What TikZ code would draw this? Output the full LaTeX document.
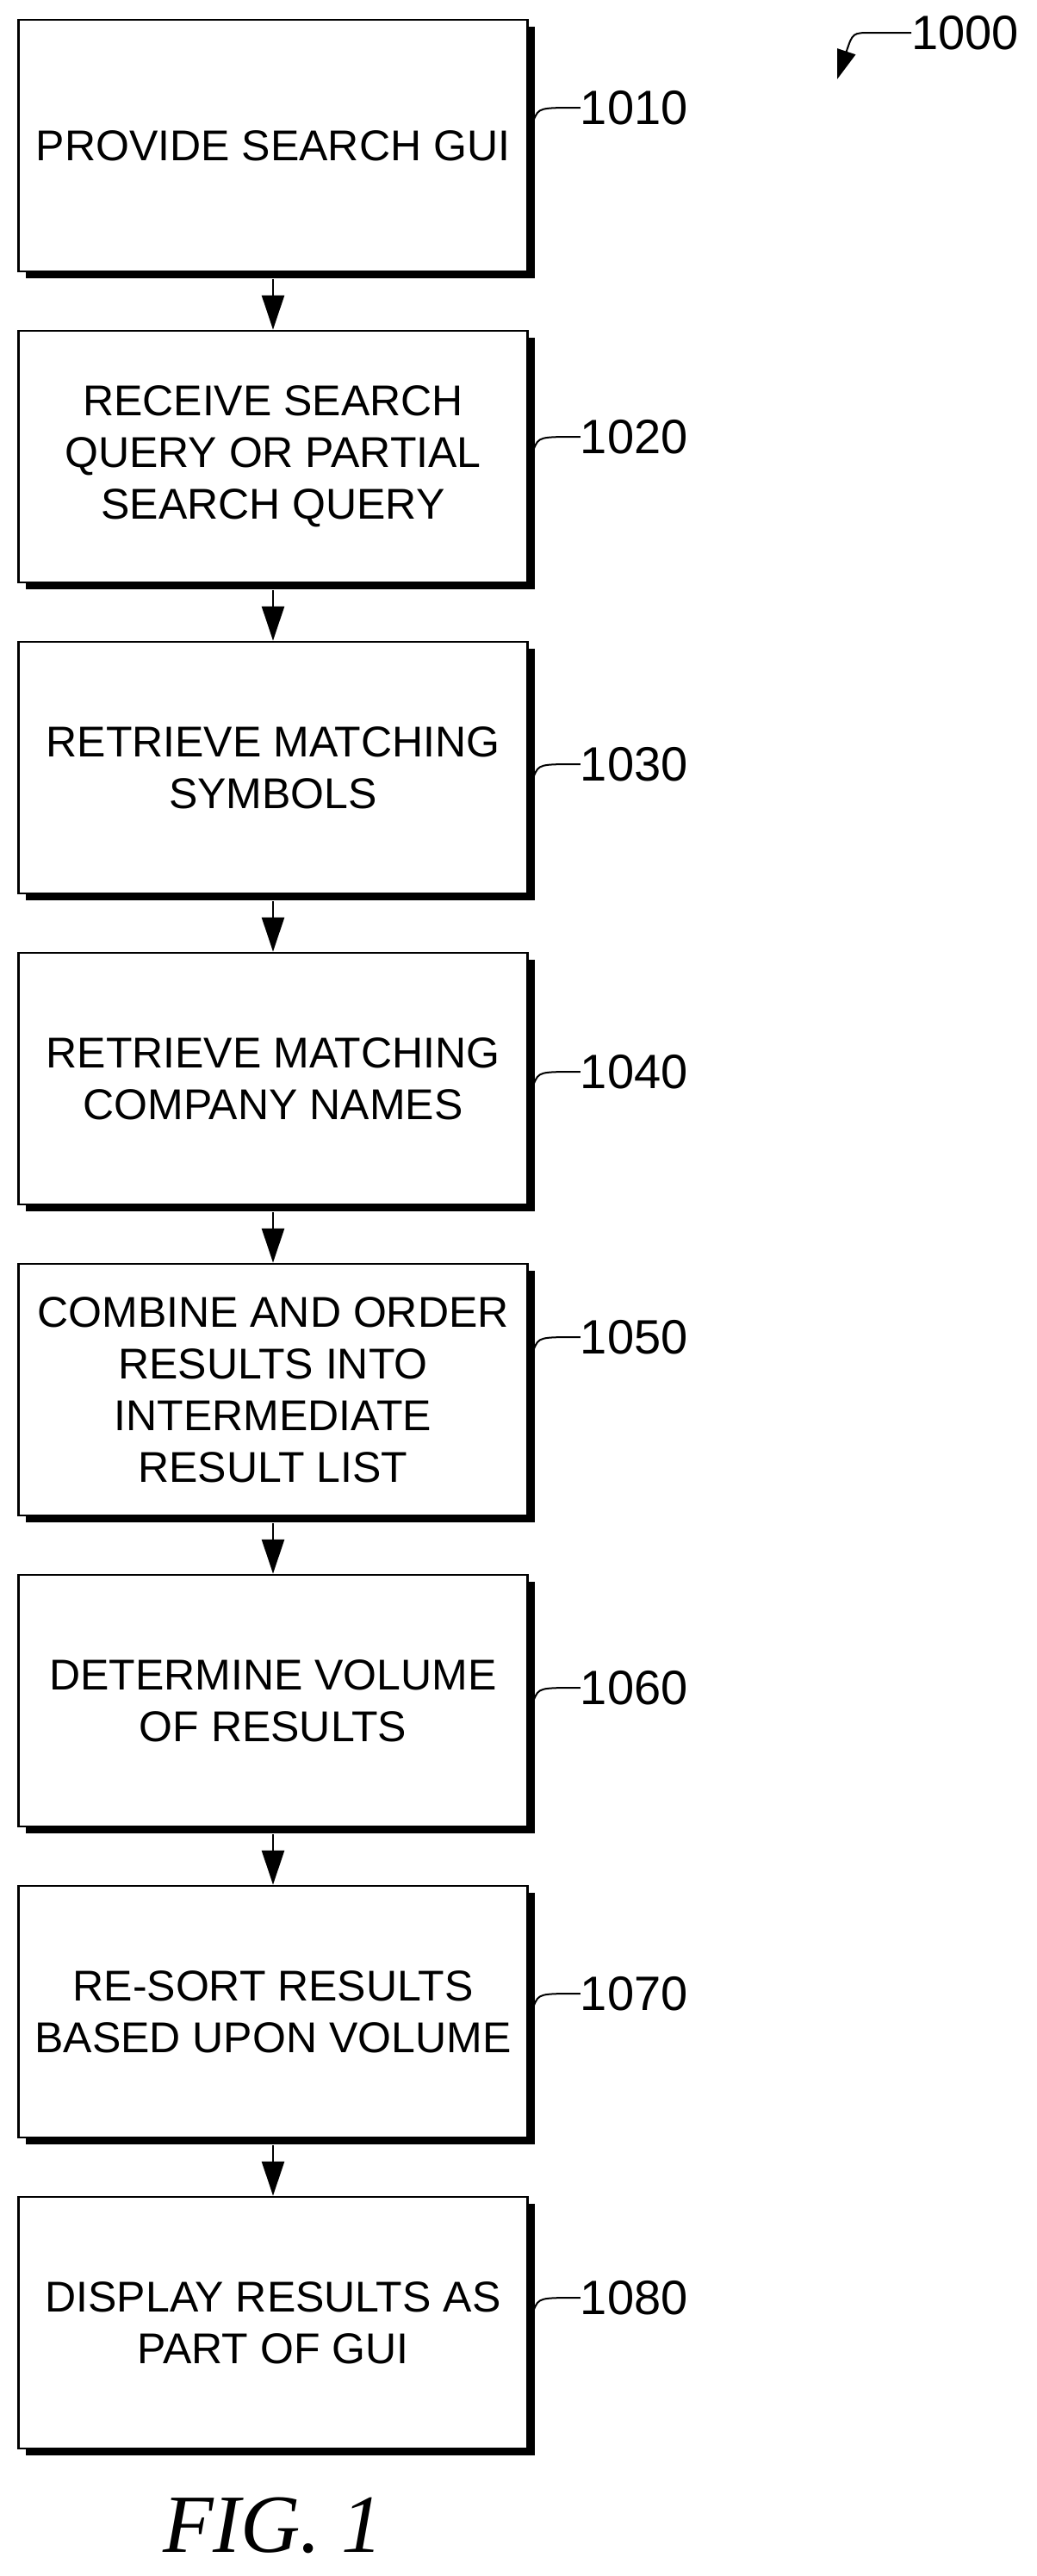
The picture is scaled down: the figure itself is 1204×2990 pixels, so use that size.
\documentclass[tikz,border=0pt]{standalone}
\usepackage{fontspec}
\setmainfont{Liberation Sans}
\newfontfamily\figfont{Liberation Serif}
\usetikzlibrary{arrows.meta, positioning, shadows}
\tikzset{
  stepbox/.style={draw, line width=2.5pt, fill=white, minimum width=591pt, minimum height=292pt,
    align=center, font=\fontsize{50}{60}\selectfont, inner sep=0pt,
    drop shadow={opacity=1, fill=black, shadow xshift=8pt, shadow yshift=-8pt}},
  reflabel/.style={font=\fontsize{56}{60}\selectfont, anchor=west, inner sep=0pt},
  leader/.style={line width=2pt},
  flow/.style={line width=2.5pt, -{Triangle[length=40pt,width=26pt]}}
}
\begin{document}
\begin{tikzpicture}[x=1pt, y=-1pt, node distance=66.5pt]
\useasboundingbox (0,0) rectangle (1204,2990);
\node[stepbox] (b1) at (317,169) {PROVIDE SEARCH GUI};
\node[stepbox, below=of b1] (b2) {RECEIVE SEARCH\\QUERY OR PARTIAL\\SEARCH QUERY};
\node[stepbox, below=of b2] (b3) {RETRIEVE MATCHING\\SYMBOLS};
\node[stepbox, below=of b3] (b4) {RETRIEVE MATCHING\\COMPANY NAMES};
\node[stepbox, below=of b4] (b5) {COMBINE AND ORDER\\RESULTS INTO\\INTERMEDIATE\\RESULT LIST};
\node[stepbox, below=of b5] (b6) {DETERMINE VOLUME\\OF RESULTS};
\node[stepbox, below=of b6] (b7) {RE-SORT RESULTS\\BASED UPON VOLUME};
\node[stepbox, below=of b7] (b8) {DISPLAY RESULTS AS\\PART OF GUI};
% connectors
\foreach \A/\B in {b1/b2,b2/b3,b3/b4,b4/b5,b5/b6,b6/b7,b7/b8}
  \draw[flow] (\A.south) ++(0,8) -- (\B.north);
% reference numerals
\foreach \N/\T/\D in {b1/1010/44,b2/1020/23,b3/1030/4,b4/1040/8,b5/1050/61,b6/1060/15,b7/1070/21,b8/1080/29}
{
  \node[reflabel] (l\N) at ([shift={(60pt,\D pt)}]\N.east) {\T};
  \draw[leader] ([shift={(6pt,\D pt-14pt)}]\N.east) .. controls ([shift={(12pt,\D pt)}]\N.east) .. (l\N.west);
}
\node[reflabel] (l1000) at (1058,38) {1000};
\coordinate (t1000) at (972,92);
\draw[line width=2pt, -{Triangle[length=34pt,width=22pt]}] (l1000.west) -- ++(-46,0) .. controls ++(-22,0) .. (t1000);
\node[font=\figfont\itshape\fontsize{96}{100}\selectfont, anchor=base] (fig) at (317,2962) {FIG. 1};
\end{tikzpicture}
\end{document}
